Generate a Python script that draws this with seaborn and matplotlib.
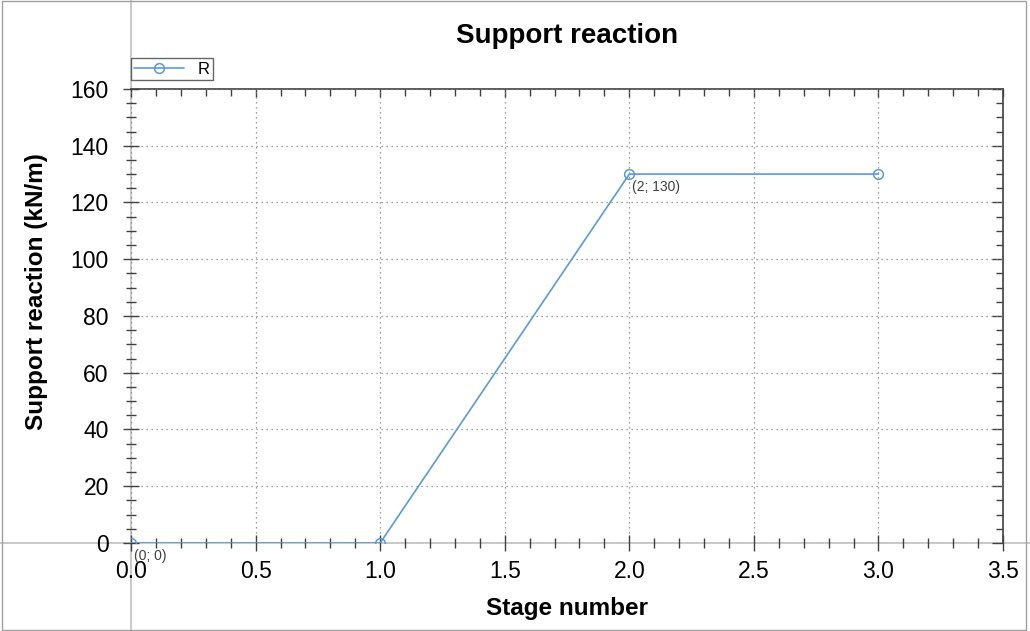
import matplotlib
matplotlib.use("Agg")
import matplotlib.pyplot as plt
from matplotlib.lines import Line2D
from matplotlib.patches import Rectangle
from matplotlib.ticker import MultipleLocator, FormatStrFormatter, NullFormatter
import seaborn as sns

# --- Data ---
stage = [0, 1, 2, 3]
reaction = [0, 0, 130, 130]
annot_points = [(0, 0), (2, 130)]
annot_labels = ["(0; 0)", "(2; 130)"]

LINE_COLOR = "#5b9bd5"
GRAY = "#c0c0c0"
DARK = "#404040"

sns.set_style("white")
plt.rcParams["font.family"] = ["Liberation Sans", "DejaVu Sans"]
plt.rcParams["text.color"] = "black"
plt.rcParams["axes.labelcolor"] = "black"

fig = plt.figure(figsize=(10.3, 6.31), dpi=100)
ax = fig.add_axes([0.1272, 0.1395, 0.8466, 0.7195])
ax.patch.set_alpha(0)

sns.lineplot(x=stage, y=reaction, ax=ax, color=LINE_COLOR, linewidth=1.2,
             marker="o", markersize=7, markerfacecolor="none",
             markeredgecolor=LINE_COLOR, markeredgewidth=1.1,
             label="R", zorder=3)

for (px, py), txt in zip(annot_points, annot_labels):
    ax.annotate(txt, (px, py), xytext=(2, -4), textcoords="offset points",
                ha="left", va="top", fontsize=10, color="#404040")

ax.set_xlim(0, 3.5)
ax.set_ylim(0, 160)
ax.xaxis.set_major_locator(MultipleLocator(0.5))
ax.xaxis.set_minor_locator(MultipleLocator(0.1))
ax.yaxis.set_major_locator(MultipleLocator(20))
ax.yaxis.set_minor_locator(MultipleLocator(5))
ax.xaxis.set_major_formatter(FormatStrFormatter("%.1f"))

ax.grid(True, which="major", linestyle=(0, (1, 3)), color="#808080", linewidth=0.9)

# bottom / left ticks cross the zero lines
ax.tick_params(which="both", direction="inout", color=DARK, width=1,
               bottom=True, left=True, labelsize=16.5, labelcolor="black")
ax.tick_params(which="major", length=12)
ax.tick_params(which="minor", length=7)
ax.tick_params(axis="y", which="major", pad=10)
ax.tick_params(axis="x", which="major", pad=6)

for s in ["top", "right", "left", "bottom"]:
    ax.spines[s].set_visible(False)

# top / right frame with inward ticks
top = ax.secondary_xaxis("top")
top.xaxis.set_major_locator(MultipleLocator(0.5))
top.xaxis.set_minor_locator(MultipleLocator(0.1))
top.xaxis.set_major_formatter(NullFormatter())
top.tick_params(which="both", direction="in", color=DARK, width=1, top=True)
top.tick_params(which="major", length=6)
top.tick_params(which="minor", length=5)
top.spines["top"].set_color(DARK)
top.spines["top"].set_linewidth(1.2)

right = ax.secondary_yaxis("right")
right.yaxis.set_major_locator(MultipleLocator(20))
right.yaxis.set_minor_locator(MultipleLocator(5))
right.yaxis.set_major_formatter(NullFormatter())
right.tick_params(which="both", direction="in", color=DARK, width=1, right=True)
right.tick_params(which="major", length=8)
right.tick_params(which="minor", length=5)
right.spines["right"].set_color(DARK)
right.spines["right"].set_linewidth(1.2)

ax.set_title("Support reaction", fontsize=20, fontweight="bold", pad=33)
ax.set_xlabel("Stage number", fontsize=17.5, fontweight="bold", labelpad=10)
ax.set_ylabel("Support reaction (kN/m)", fontsize=17.5, fontweight="bold")
ax.yaxis.set_label_coords(-0.095, 0.553)

leg = ax.legend(loc="lower left", bbox_to_anchor=(0.0, 1.02), frameon=True,
                fancybox=False, fontsize=12, borderpad=0.2, handlelength=3,
                borderaxespad=0)
leg.get_frame().set_edgecolor(DARK)
leg.get_frame().set_linewidth(1)

# zero lines spanning the whole figure, drawn beneath the axes
fig.add_artist(Line2D([0.1272, 0.1272], [0, 1], transform=fig.transFigure,
                      color=GRAY, linewidth=1.2, zorder=-1))
fig.add_artist(Line2D([0, 1], [0.1395, 0.1395], transform=fig.transFigure,
                      color=GRAY, linewidth=1.2, zorder=-1))
fig.add_artist(Rectangle((0.002, 0.002), 0.994, 0.996, transform=fig.transFigure,
                         fill=False, edgecolor="#a0a0a0", linewidth=1))

fig.savefig("out.png", dpi=100)
